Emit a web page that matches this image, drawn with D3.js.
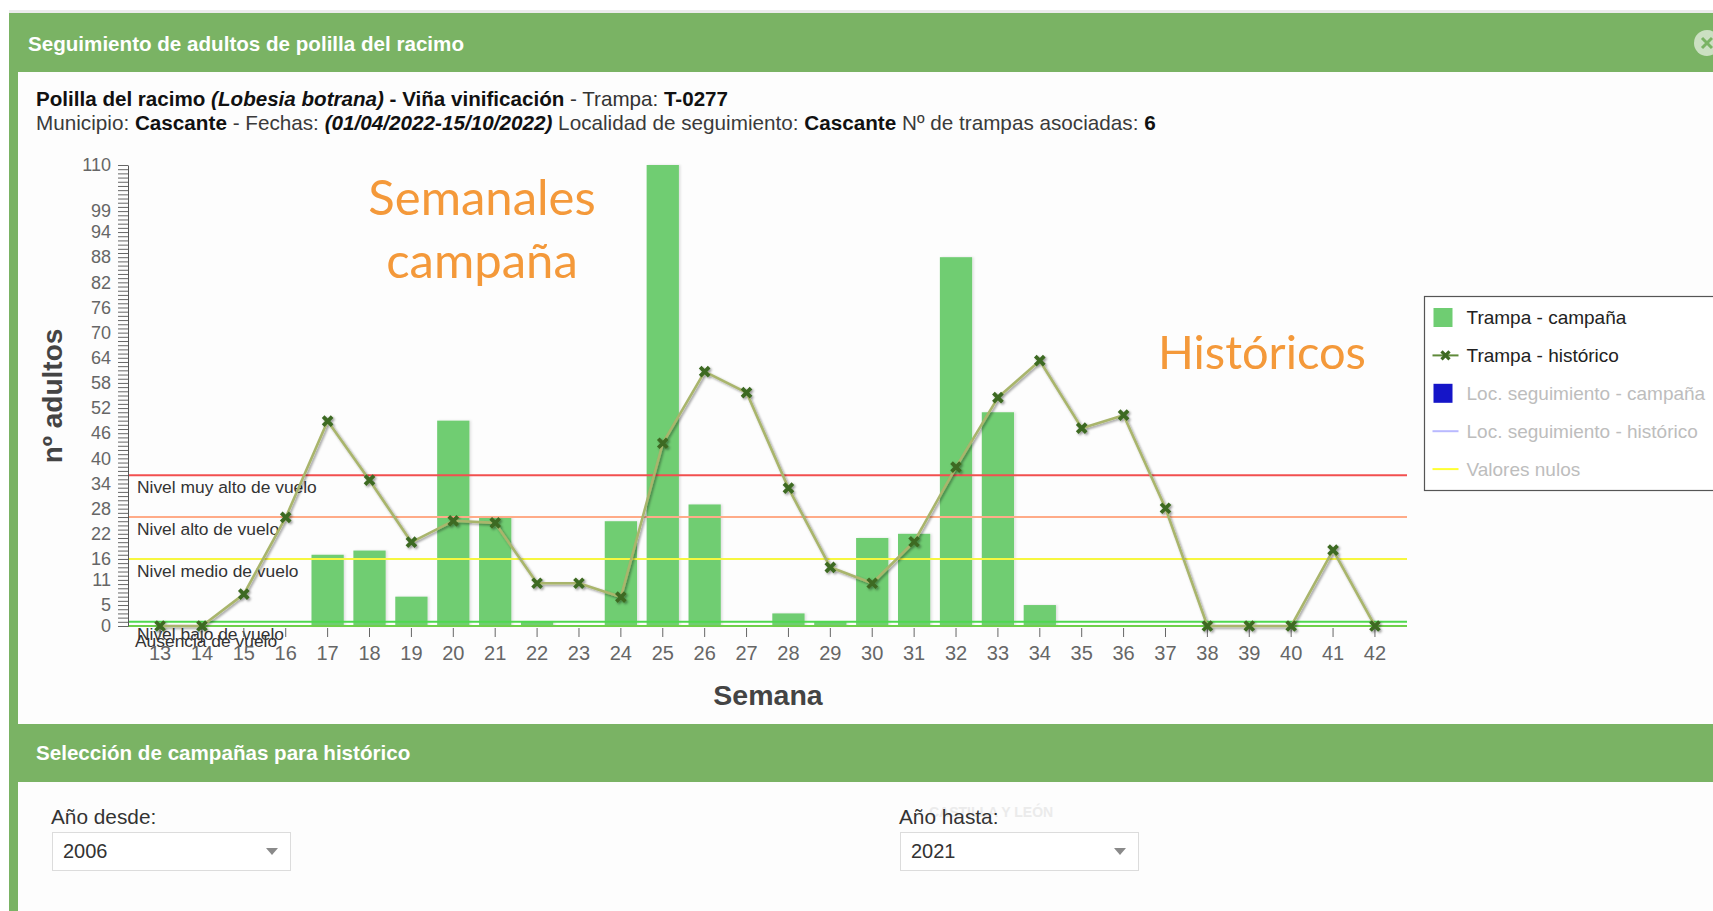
<!DOCTYPE html>
<html>
<head>
<meta charset="utf-8">
<title>Seguimiento de adultos de polilla del racimo</title>
<script src="https://cdn.jsdelivr.net/npm/d3@7"></script>
<style>
  body { margin: 0; background: #fff; overflow: hidden; }
  #page { position: relative; width: 1713px; height: 911px; }
  svg text { font-family: "Liberation Sans", Arial, sans-serif; }
  svg text.note { font-family: Lato, "Open Sans", sans-serif; }
</style>
</head>
<body>
<div id="page"></div>
<script>
// ---- data ----
const weeks = [13, 14, 15, 16, 17, 18, 19, 20, 21, 22, 23, 24, 25, 26, 27,
               28, 29, 30, 31, 32, 33, 34, 35, 36, 37, 38, 39, 40, 41, 42];
// Trampa - campaña (bars)
const campaign = [0, 0, 0, 0, 17, 18, 7, 49, 26, 1, 0, 25, 110, 29, 0,
                  3, 1, 21, 22, 88, 51, 5, 0, 0, 0, 0, 0, 0, 0, 0];
// Trampa - histórico (line)
const historic = [0, 0, 7.6, 25.9, 48.9, 34.8, 20, 25.1, 24.6, 10.2, 10.2, 6.9, 43.6, 60.7, 55.7,
                  32.9, 14, 10.2, 20.1, 37.9, 54.5, 63.3, 47.2, 50.3, 28.1, 0, 0, 0, 18.1, 0];
const yTickLabels = [0, 5, 11, 16, 22, 28, 34, 40, 46, 52, 58, 64, 70, 76, 82, 88, 94, 99, 110];
const yMax = 110;

// flight level thresholds
const levelNames = ["Nivel muy alto de vuelo", "Nivel alto de vuelo", "Nivel medio de vuelo",
                    "Nivel bajo de vuelo", "Ausencia de vuelo"];
const levelValues = [36, 26, 16, 1, 0];

const legendNames = ["Trampa - campaña", "Trampa - histórico", "Loc. seguimiento - campaña",
                     "Loc. seguimiento - histórico", "Valores nulos"];

// ---- styles ----
const green = "#7ab364";
const barColor = "#6fcd72";
const lineColor = "#a9b56c";
const markColor = "#3e6a23";
const levelColors = ["#f24f4f", "#ffab88", "#f7f740", "#4fd94f", "#6fcf4a"];
const orange = "#f4993a";

const W = 1713, H = 911;
const svg = d3.select("#page").append("svg")
    .attr("width", W)
    .attr("height", H);

const defs = svg.append("defs");
defs.append("filter").attr("id", "lineShadow")
    .attr("x", "-5%").attr("y", "-5%").attr("width", "110%").attr("height", "110%")
  .append("feDropShadow")
    .attr("dx", 1.5).attr("dy", 1.5).attr("stdDeviation", 1.2)
    .attr("flood-color", "#000").attr("flood-opacity", 0.4);
defs.append("filter").attr("id", "barShadow")
  .append("feDropShadow")
    .attr("dx", 1.5).attr("dy", 0).attr("stdDeviation", 0.8)
    .attr("flood-color", "#000").attr("flood-opacity", 0.12);

// ---- page chrome ----
svg.append("rect").attr("x", 9).attr("y", 10).attr("width", W).attr("height", 3).attr("fill", "#ebebeb");
svg.append("rect").attr("x", 9).attr("y", 13).attr("width", W).attr("height", H).attr("fill", green);
svg.append("rect").attr("x", 18).attr("y", 72).attr("width", W).attr("height", 652).attr("fill", "#fdfdfd");
svg.append("rect").attr("x", 18).attr("y", 782).attr("width", W).attr("height", H).attr("fill", "#fdfdfd");

svg.append("text")
    .attr("x", 28).attr("y", 51)
    .attr("fill", "#fff").attr("font-size", 20.6).attr("font-weight", "bold")
    .text("Seguimiento de adultos de polilla del racimo");

// close button, cut by the right edge
const close = svg.append("g").attr("transform", "translate(1707,43)");
close.append("circle").attr("r", 13).attr("fill", "#d9e8d2").attr("opacity", 0.85);
close.append("path").attr("d", "M-5,-5L5,5M-5,5L5,-5")
    .attr("stroke", green).attr("stroke-width", 3);

// info lines
const info1 = svg.append("text").attr("x", 36).attr("y", 106).attr("font-size", 20.6).attr("fill", "#111");
info1.append("tspan").attr("font-weight", "bold").text("Polilla del racimo ");
info1.append("tspan").attr("font-weight", "bold").attr("font-style", "italic").text("(Lobesia botrana)");
info1.append("tspan").attr("font-weight", "bold").text(" - Viña vinificación");
info1.append("tspan").attr("fill", "#333").text(" - Trampa: ");
info1.append("tspan").attr("font-weight", "bold").text("T-0277");

const info2 = svg.append("text").attr("x", 36).attr("y", 130).attr("font-size", 20.7).attr("fill", "#3a3a3a");
info2.append("tspan").text("Municipio: ");
info2.append("tspan").attr("font-weight", "bold").attr("fill", "#111").text("Cascante");
info2.append("tspan").text(" - Fechas: ");
info2.append("tspan").attr("font-weight", "bold").attr("font-style", "italic").attr("fill", "#111").text("(01/04/2022-15/10/2022)");
info2.append("tspan").text(" Localidad de seguimiento: ");
info2.append("tspan").attr("font-weight", "bold").attr("fill", "#111").text("Cascante");
info2.append("tspan").text(" Nº de trampas asociadas: ");
info2.append("tspan").attr("font-weight", "bold").attr("fill", "#111").text("6");

// ---- chart ----
const plot = { left: 128, right: 1407, top: 165, bottom: 626 };

const x = d3.scaleBand()
    .domain(weeks)
    .range([plot.left, plot.right])
    .paddingInner(0.23)
    .paddingOuter(0.38);
const y = d3.scaleLinear().domain([0, yMax]).range([plot.bottom, plot.top]);
const cx = w => x(w) + x.bandwidth() / 2;

// bars
svg.append("g").attr("filter", "url(#barShadow)")
  .selectAll("rect")
  .data(weeks.map((w, i) => ({ w, v: campaign[i] })).filter(d => d.v > 0))
  .join("rect")
    .attr("x", d => x(d.w))
    .attr("width", x.bandwidth())
    .attr("y", d => y(d.v))
    .attr("height", d => y(0) - y(d.v))
    .attr("fill", barColor);

// level lines
svg.append("g").selectAll("line")
  .data(levelValues)
  .join("line")
    .attr("x1", plot.left).attr("x2", plot.right)
    .attr("y1", d => y(d)).attr("y2", d => y(d))
    .attr("stroke", (d, i) => levelColors[i])
    .attr("stroke-width", 2);

// labels sit just under their line; the two lowest overlap as in the source
svg.append("g").selectAll("text")
  .data(levelValues)
  .join("text")
    .attr("x", (d, i) => i === 4 ? 135 : 137)
    .attr("y", (d, i) => y(d) + (i === 4 ? 21 : 18))
    .attr("font-size", 17.4)
    .attr("fill", "#333")
    .text((d, i) => levelNames[i]);

// y axis
const yAxis = d3.axisLeft(y)
    .tickValues(d3.range(0, yMax + 1))
    .tickSize(10)
    .tickSizeOuter(0)
    .tickPadding(7)
    .tickFormat(d => yTickLabels.includes(d) ? d : "");
const gy = svg.append("g")
    .attr("transform", `translate(${plot.left},0)`)
    .call(yAxis);
gy.select(".domain").attr("stroke", "#555");
gy.selectAll(".tick line").attr("stroke", "#666");
gy.selectAll(".tick text").attr("font-size", 18).attr("fill", "#666")
    .attr("font-family", '"Liberation Sans", Arial, sans-serif');

// x axis
const xAxis = d3.axisBottom(x).tickSize(9).tickPadding(9);
const gx = svg.append("g")
    .attr("transform", `translate(0,${plot.bottom + 2})`)
    .call(xAxis);
gx.select(".domain").remove();
gx.selectAll(".tick line").attr("stroke", "#666");
gx.selectAll(".tick text").attr("font-size", 20).attr("fill", "#666")
    .attr("font-family", '"Liberation Sans", Arial, sans-serif');

// axis titles
svg.append("text")
    .attr("transform", "translate(62,396) rotate(-90)")
    .attr("text-anchor", "middle")
    .attr("font-size", 28).attr("font-weight", "bold").attr("fill", "#444")
    .text("nº adultos");
svg.append("text")
    .attr("x", 768).attr("y", 705)
    .attr("text-anchor", "middle")
    .attr("font-size", 28.5).attr("font-weight", "bold").attr("fill", "#444")
    .text("Semana");

// historic line with markers
const line = d3.line()
    .x(d => cx(d.w))
    .y(d => y(d.v));
const histData = weeks.map((w, i) => ({ w, v: historic[i] }));
const gl = svg.append("g").attr("filter", "url(#lineShadow)");
gl.append("path")
    .datum(histData)
    .attr("d", line)
    .attr("fill", "none")
    .attr("stroke", lineColor)
    .attr("stroke-width", 2.6)
    .attr("stroke-linejoin", "round");
gl.selectAll(".mark")
  .data(histData)
  .join("path")
    .attr("class", "mark")
    .attr("transform", d => `translate(${cx(d.w)},${y(d.v)})`)
    .attr("d", "M-4.5,-4.5L4.5,4.5M-4.5,4.5L4.5,-4.5")
    .attr("stroke", markColor)
    .attr("stroke-width", 3.8);

// annotations
const ann = svg.append("g").attr("fill", orange).attr("text-anchor", "middle");
ann.append("text").attr("class", "note").attr("x", 482).attr("y", 215).attr("font-size", 49).text("Semanales");
ann.append("text").attr("class", "note").attr("x", 482).attr("y", 278).attr("font-size", 49).text("campaña");
ann.append("text").attr("class", "note").attr("x", 1262).attr("y", 369).attr("font-size", 47).text("Históricos");

// legend
const lg = svg.append("g").attr("transform", "translate(1424.5,296.5)");
lg.append("rect").attr("width", 320).attr("height", 194)
    .attr("fill", "#fff").attr("stroke", "#555").attr("stroke-width", 1.2);
const legendRowY = i => 21 + i * 37.9;
const legendText = ["#222", "#222", "#bdbdbd", "#bdbdbd", "#bdbdbd"];
lg.selectAll(".lt")
  .data(legendNames)
  .join("text")
    .attr("class", "lt")
    .attr("x", 42)
    .attr("y", (d, i) => legendRowY(i) + 6.5)
    .attr("font-size", 19)
    .attr("fill", (d, i) => legendText[i])
    .text(d => d);
lg.append("rect").attr("x", 9).attr("y", legendRowY(0) - 9.5).attr("width", 19).attr("height", 19).attr("fill", barColor);
lg.append("line").attr("x1", 8).attr("x2", 34).attr("y1", legendRowY(1)).attr("y2", legendRowY(1))
    .attr("stroke", "#5f8a3a").attr("stroke-width", 2);
lg.append("path").attr("transform", `translate(21,${legendRowY(1)})`)
    .attr("d", "M-4,-4L4,4M-4,4L4,-4").attr("stroke", markColor).attr("stroke-width", 3.2);
lg.append("rect").attr("x", 9).attr("y", legendRowY(2) - 9.5).attr("width", 19).attr("height", 19).attr("fill", "#1515c8");
lg.append("line").attr("x1", 8).attr("x2", 34).attr("y1", legendRowY(3)).attr("y2", legendRowY(3))
    .attr("stroke", "#b9b9ff").attr("stroke-width", 2);
lg.append("line").attr("x1", 8).attr("x2", 34).attr("y1", legendRowY(4)).attr("y2", legendRowY(4))
    .attr("stroke", "#ffff33").attr("stroke-width", 2);

// ---- campaign selection block ----
svg.append("text")
    .attr("x", 36).attr("y", 760)
    .attr("fill", "#fff").attr("font-size", 20.6).attr("font-weight", "bold")
    .text("Selección de campañas para histórico");

svg.append("text")
    .attr("x", 929).attr("y", 817)
    .attr("fill", "#ebebeb").attr("font-size", 14).attr("font-weight", "bold")
    .text("CASTILLA Y LEÓN");

const selectors = [
  { label: "Año desde:", value: "2006", x: 52 },
  { label: "Año hasta:", value: "2021", x: 900 }
];
const sel = svg.selectAll(".sel").data(selectors).join("g")
    .attr("class", "sel")
    .attr("transform", d => `translate(${d.x},0)`);
sel.append("text").attr("x", -1).attr("y", 824).attr("font-size", 20.8).attr("fill", "#333").text(d => d.label);
sel.append("rect").attr("x", 0.5).attr("y", 832.5).attr("width", 238).attr("height", 38)
    .attr("fill", "#fff").attr("stroke", "#dcdcdc");
sel.append("text").attr("x", 11).attr("y", 858).attr("font-size", 20).attr("fill", "#333").text(d => d.value);
sel.append("path").attr("d", "M214,848L226,848L220,855Z").attr("fill", "#8a8a8a");
</script>
</body>
</html>
